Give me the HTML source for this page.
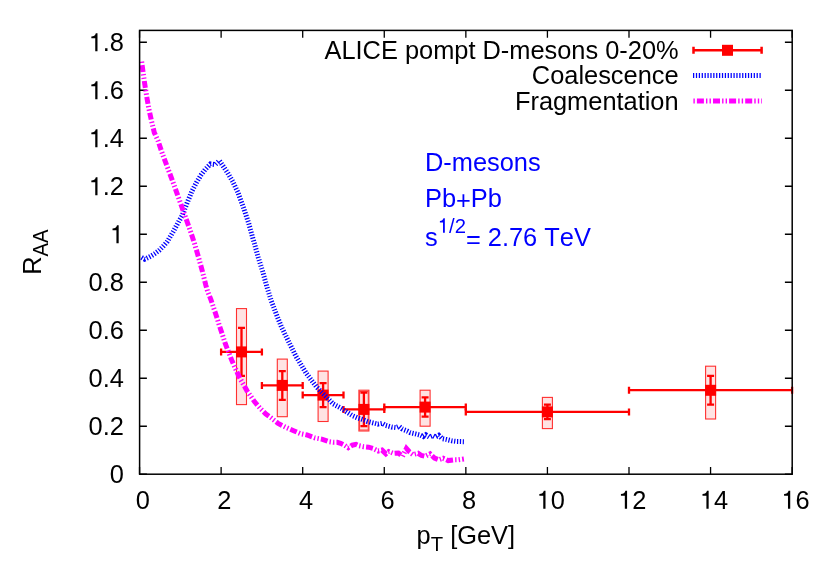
<!DOCTYPE html>
<html><head><meta charset="utf-8"><title>R_AA D-mesons</title>
<style>
html,body{margin:0;padding:0;background:#fff;}
body{width:830px;height:581px;overflow:hidden;}
svg{display:block;will-change:transform;}
text{font-family:"Liberation Sans",sans-serif;fill:#000;font-kerning:none;}
</style></head><body>
<svg width="830" height="581" viewBox="0 0 830 581">
<rect x="0" y="0" width="830" height="581" fill="#ffffff"/>

<path d="M139.6 474.25H146.9M792.1 474.25H784.9M139.6 426.25H146.9M792.1 426.25H784.9M139.6 378.25H146.9M792.1 378.25H784.9M139.6 330.25H146.9M792.1 330.25H784.9M139.6 282.25H146.9M792.1 282.25H784.9M139.6 234.25H146.9M792.1 234.25H784.9M139.6 186.25H146.9M792.1 186.25H784.9M139.6 138.25H146.9M792.1 138.25H784.9M139.6 90.25H146.9M792.1 90.25H784.9M139.6 42.25H146.9M792.1 42.25H784.9M139.55 474.2V466.9M139.55 30.4V37.7M221.12 474.2V466.9M221.12 30.4V37.7M302.70 474.2V466.9M302.70 30.4V37.7M384.27 474.2V466.9M384.27 30.4V37.7M465.85 474.2V466.9M465.85 30.4V37.7M547.42 474.2V466.9M547.42 30.4V37.7M629.00 474.2V466.9M629.00 30.4V37.7M710.57 474.2V466.9M710.57 30.4V37.7M792.15 474.2V466.9M792.15 30.4V37.7" stroke="#000" stroke-width="1.3" fill="none"/>
<g fill="#ffe3e3" stroke="#ff3030" stroke-width="1.1">
<rect x="236.5" y="308.6" width="10" height="96.0"/>
<rect x="277.3" y="359.1" width="10" height="57.6"/>
<rect x="318.1" y="371.1" width="10" height="50.4"/>
<rect x="358.9" y="390.2" width="10" height="40.8"/>
<rect x="420.1" y="390.2" width="10" height="36.0"/>
<rect x="542.4" y="397.4" width="10" height="31.2"/>
<rect x="705.6" y="366.2" width="10" height="52.8"/>
<rect x="359.6" y="391.4" width="8.6" height="38.6" fill="none" stroke-width="0.9"/>
</g>
<g stroke="#ff0000" stroke-width="2.3" fill="#ff0000">
<path d="M221.1 351.9H261.9M221.1 348.4V355.4M261.9 348.4V355.4"/>
<path d="M241.5 327.9V375.9M238.0 327.9H245.0M238.0 375.9H245.0"/>
<rect x="236.0" y="346.4" width="11" height="11" stroke="none"/>
<path d="M261.9 385.4H302.7M261.9 381.9V388.9M302.7 381.9V388.9"/>
<path d="M282.3 371.1V399.9M278.8 371.1H285.8M278.8 399.9H285.8"/>
<rect x="276.8" y="379.9" width="11" height="11" stroke="none"/>
<path d="M302.7 395.1H343.5M302.7 391.6V398.6M343.5 391.6V398.6"/>
<path d="M323.1 383.1V407.1M319.6 383.1H326.6M319.6 407.1H326.6"/>
<rect x="317.6" y="389.6" width="11" height="11" stroke="none"/>
<path d="M343.5 409.4H384.3M343.5 405.9V412.9M384.3 405.9V412.9"/>
<path d="M363.9 392.6V426.2M360.4 392.6H367.4M360.4 426.2H367.4"/>
<rect x="358.4" y="403.9" width="11" height="11" stroke="none"/>
<path d="M384.3 407.1H465.8M384.3 403.6V410.6M465.8 403.6V410.6"/>
<path d="M425.1 397.4V416.6M421.6 397.4H428.6M421.6 416.6H428.6"/>
<rect x="419.6" y="401.6" width="11" height="11" stroke="none"/>
<path d="M465.8 411.9H629.0M465.8 408.4V415.4M629.0 408.4V415.4"/>
<path d="M547.4 404.6V419.1M543.9 404.6H550.9M543.9 419.1H550.9"/>
<rect x="541.9" y="406.4" width="11" height="11" stroke="none"/>
<path d="M629.0 390.2H792.1M629.0 386.8V393.8M792.1 386.8V393.8"/>
<path d="M710.6 375.9V404.6M707.1 375.9H714.1M707.1 404.6H714.1"/>
<rect x="705.1" y="384.8" width="11" height="11" stroke="none"/>
</g>
<polyline points="141.6,257.4 144.6,259.2 148.0,257.6 151.0,256.0 155.0,253.5 159.0,250.5 163.0,246.5 167.0,242.0 170.0,237.0 173.0,232.0 176.0,226.5 179.0,221.0 182.0,216.0 186.8,203.7 192.2,190.6 196.5,182.5 200.8,175.3 205.2,169.5 210.4,164.0 215.3,164.6 219.3,160.6 222.5,165.2 227.6,172.8 232.8,181.6 238.0,192.6 243.3,207.1 248.5,222.6 252.8,238.1 254.0,242.1 258.3,257.5 262.6,271.3 266.9,286.8 271.2,300.6 276.4,314.4 281.6,327.3 287.3,338.9 295.9,356.2 306.3,373.4 316.6,387.1 326.9,397.5 333.2,404.0 341.7,408.6 346.9,412.1 352.1,415.5 357.2,417.7 362.4,419.4 367.6,421.5 372.7,422.8 377.9,424.1 382.2,423.3 385.7,425.4 391.7,427.1 396.0,427.6 399.0,426.3 402.0,428.9 407.2,431.0 410.3,432.7 415.5,433.9 420.7,435.2 423.3,436.5 425.8,434.8 429.3,437.0 432.7,435.7 435.3,437.0 438.8,435.2 442.2,438.7 446.5,439.5 451.7,440.8 456.8,441.5 463.9,441.7" fill="none" stroke="#0000ff" stroke-width="5" stroke-dasharray="1.25 1.64" stroke-linejoin="miter"/>
<polyline points="141.6,61.2 143.1,72.4 144.8,84.4 146.7,96.5 148.8,108.5 151.4,120.6 154.3,132.6 158.1,140.9 162.4,153.8 167.5,167.5 172.7,181.3 177.0,193.4 181.3,205.4 185.6,217.5 189.9,229.5 194.6,243.8 198.6,257.5 202.4,271.3 205.8,285.1 207.5,291.0 210.9,299.6 213.8,308.3 216.7,317.0 219.1,324.7 222.0,333.4 225.4,344.0 232.2,361.3 239.1,376.8 246.9,390.6 254.6,401.8 260.3,408.5 265.6,413.8 271.4,418.1 278.1,423.4 285.8,427.3 293.6,430.7 300.3,433.6 307.0,435.0 314.8,437.9 322.5,439.3 329.2,441.7 333.9,442.3 337.2,442.3 340.6,443.3 344.5,445.2 348.3,447.7 352.2,445.2 356.0,444.3 358.9,445.7 363.7,446.7 368.6,447.2 373.4,448.6 378.2,451.0 382.0,450.1 385.9,453.9 388.8,451.5 393.6,453.4 398.4,453.0 402.5,456.3 406.4,448.4 409.5,452.0 412.9,454.6 418.1,453.3 421.5,455.5 425.0,456.3 430.1,453.8 434.5,458.1 438.8,459.8 443.1,458.3 448.2,460.6 453.4,459.9 458.6,459.8 463.9,459.0" fill="none" stroke="#ff00ff" stroke-width="5" stroke-dasharray="7 2.1 1.4 2.1 1.4 2.1" stroke-dashoffset="12.2" stroke-linejoin="miter"/>
<g stroke="#ff0000" stroke-width="2.5" fill="#ff0000"><path d="M693.5 50.3H761.6M693.5 46.8V53.8M761.6 46.8V53.8"/><rect x="722" y="44.8" width="11" height="11" stroke="none"/></g>
<path d="M693 75.5H761.5" fill="none" stroke="#0000ff" stroke-width="5" stroke-dasharray="1.25 1.64"/>
<path d="M693 101H762" fill="none" stroke="#ff00ff" stroke-width="5" stroke-dasharray="7 2.1 1.4 2.1 1.4 2.1" stroke-dashoffset="12.2"/>
<rect x="139.6" y="30.4" width="652.6" height="443.8" stroke="#000" stroke-width="1.5" fill="none"/>
<g font-size="25.4">
<text transform="translate(123.9,483.2) scale(1,1.030)" text-anchor="end">0</text>
<text transform="translate(123.9,435.2) scale(1,1.030)" text-anchor="end">0.2</text>
<text transform="translate(123.9,387.2) scale(1,1.030)" text-anchor="end">0.4</text>
<text transform="translate(123.9,339.2) scale(1,1.030)" text-anchor="end">0.6</text>
<text transform="translate(123.9,291.2) scale(1,1.030)" text-anchor="end">0.8</text>
<path d="M537 0V1014H222V1152C422 1164 534 1252 584 1415H718V0Z" fill="#000" transform="translate(109.77,243.25) scale(0.01240,-0.01277)"/>
<path d="M537 0V1014H222V1152C422 1164 534 1252 584 1415H718V0Z" fill="#000" transform="translate(88.59,195.25) scale(0.01240,-0.01277)"/>
<text transform="translate(123.9,195.2) scale(1,1.030)" text-anchor="end">.2</text>
<path d="M537 0V1014H222V1152C422 1164 534 1252 584 1415H718V0Z" fill="#000" transform="translate(88.59,147.25) scale(0.01240,-0.01277)"/>
<text transform="translate(123.9,147.2) scale(1,1.030)" text-anchor="end">.4</text>
<path d="M537 0V1014H222V1152C422 1164 534 1252 584 1415H718V0Z" fill="#000" transform="translate(88.59,99.25) scale(0.01240,-0.01277)"/>
<text transform="translate(123.9,99.2) scale(1,1.030)" text-anchor="end">.6</text>
<path d="M537 0V1014H222V1152C422 1164 534 1252 584 1415H718V0Z" fill="#000" transform="translate(88.59,51.25) scale(0.01240,-0.01277)"/>
<text transform="translate(123.9,51.2) scale(1,1.030)" text-anchor="end">.8</text>
<text transform="translate(142.9,508.8) scale(1,1.030)" text-anchor="middle">0</text>
<text transform="translate(224.4,508.8) scale(1,1.030)" text-anchor="middle">2</text>
<text transform="translate(306.0,508.8) scale(1,1.030)" text-anchor="middle">4</text>
<text transform="translate(387.6,508.8) scale(1,1.030)" text-anchor="middle">6</text>
<text transform="translate(469.1,508.8) scale(1,1.030)" text-anchor="middle">8</text>
<path d="M537 0V1014H222V1152C422 1164 534 1252 584 1415H718V0Z" fill="#000" transform="translate(536.60,508.80) scale(0.01240,-0.01277)"/>
<text transform="translate(550.7,508.8) scale(1,1.030)">0</text>
<path d="M537 0V1014H222V1152C422 1164 534 1252 584 1415H718V0Z" fill="#000" transform="translate(618.17,508.80) scale(0.01240,-0.01277)"/>
<text transform="translate(632.3,508.8) scale(1,1.030)">2</text>
<path d="M537 0V1014H222V1152C422 1164 534 1252 584 1415H718V0Z" fill="#000" transform="translate(699.75,508.80) scale(0.01240,-0.01277)"/>
<text transform="translate(713.9,508.8) scale(1,1.030)">4</text>
<path d="M537 0V1014H222V1152C422 1164 534 1252 584 1415H718V0Z" fill="#000" transform="translate(781.32,508.80) scale(0.01240,-0.01277)"/>
<text transform="translate(795.4,508.8) scale(1,1.030)">6</text>
</g>
<text transform="translate(416.6,543.6) scale(1,1.030)" font-size="25.4">p<tspan font-size="20.3" dy="6.8">T</tspan><tspan dy="-6.8"> [GeV]</tspan></text>
<text transform="translate(41.2,274.8) rotate(-90) scale(1,1.050)" font-size="25.4">R<tspan font-size="20.3" dy="6.7">AA</tspan></text>
<g font-size="25.4" text-anchor="end">
<text transform="translate(678.6,59.0) scale(1,1.030)">ALICE pompt D-mesons 0-20%</text>
<text transform="translate(678.6,84.4) scale(1,1.030)">Coalescence</text>
<text transform="translate(678.6,109.9) scale(1,1.030)">Fragmentation</text>
</g>
<g font-size="25.4" style="fill:#0000ff">
<text transform="translate(425.0,171.1) scale(1,1.030)" style="fill:#0000ff">D-mesons</text>
<text transform="translate(425.0,206.9) scale(1,1.030)" style="fill:#0000ff">Pb<tspan dy="2.2">+</tspan><tspan dy="-2.2">Pb</tspan></text>
<text transform="translate(425.0,245.9) scale(1,1.030)" style="fill:#0000ff">s</text>
<path d="M537 0V1014H222V1152C422 1164 534 1252 584 1415H718V0Z" fill="#0000ff" transform="translate(437.70,232.82) scale(0.00992,-0.01022)"/>
<text transform="translate(449.00,232.82) scale(1,1.030)" font-size="20.3" style="fill:#0000ff">/2</text>
<text transform="translate(465.95,245.9) scale(1,1.030)" style="fill:#0000ff"><tspan dy="2.4">=</tspan><tspan dy="-2.4"> 2.76 TeV</tspan></text>
</g>
</svg></body></html>
